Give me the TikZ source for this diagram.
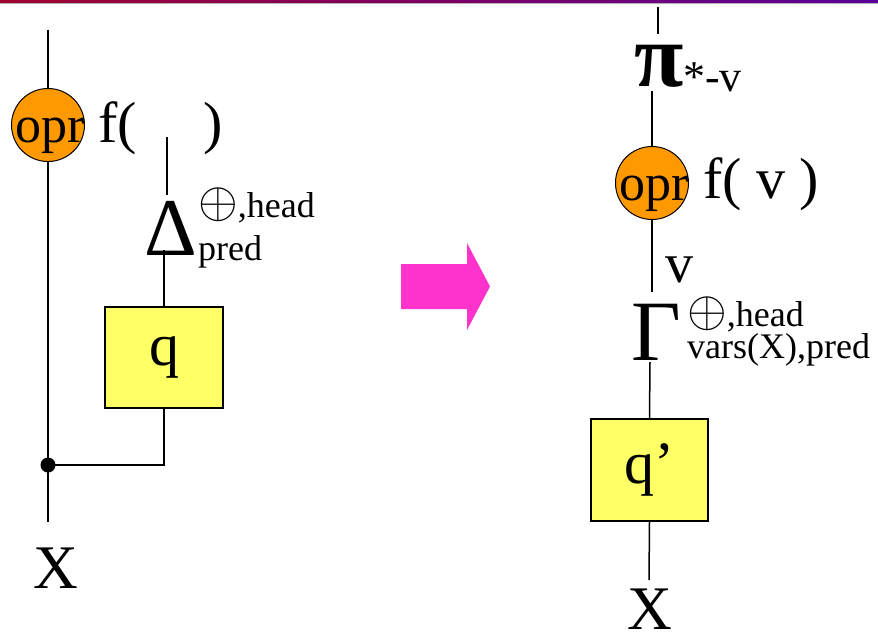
\documentclass[tikz,border=0pt]{standalone}
\usepackage{fontspec}
\usepackage{graphicx}
\setmainfont{Liberation Serif}
\newcommand{\opl}{\scalebox{2.05}{$\oplus$}}
\begin{document}
\begin{tikzpicture}[x=1pt,y=-1pt,
  wire/.style={line width=1.5pt,black},
  oprnode/.style={circle,draw=black,line width=1pt,fill=orangeop,minimum size=73pt,inner sep=0pt},
  qbox/.style={draw=black,line width=1.6pt,fill=yellowq,inner sep=0pt},
  txt/.style={inner sep=0pt,anchor=base west},
  fs/.style={font=\fontsize{#1}{#1}\selectfont}]
\definecolor{orangeop}{HTML}{FF9900}
\definecolor{yellowq}{HTML}{FFFF66}
\definecolor{pinkarrow}{HTML}{FF33CC}
\definecolor{barleft}{HTML}{A00030}
\definecolor{barright}{HTML}{5A0099}
\useasboundingbox (0,0) rectangle (878,634);
% top bar
\shade[left color=barleft,right color=barright] (0,0) rectangle (878,2.6);
\fill[gray!60] (0,2.6) rectangle (878,3.4);

% ---------- left diagram ----------
\coordinate (ltop) at (48,30);
\node[oprnode] (c1) at (48,125) {};
\node[fs=52,inner sep=0pt,anchor=base] (opr1) at (50,142) {opr};
\node[txt,fs=58] (f1) at (98,142) {f(};
\node[txt,fs=58] (p1) at (203,142) {)};
\coordinate (dot) at (48,465);
\coordinate (lbot) at (48,522);
\node[qbox,minimum width=118pt,minimum height=101pt] (q) at (164,357.5) {};
\node[fs=60,inner sep=0pt] (qlab) at (q.center) {q};
\node[txt,fs=82,anchor=base] (delta) at (171,255) {Δ};
\node[txt,fs=36] (dsup) at (198,217) {\opl,head};
\node[txt,fs=36] (dsub) at (198,260) {pred};
\coordinate (dtop) at (167,137);
\coordinate (dtopend) at (167,195);
\coordinate (dbot) at (164,250);
\coordinate (qcorner) at (164,465);
\node[txt,fs=62,anchor=base] (X1) at (56,588) {X};

\draw[wire] (ltop) -- (c1.north);
\draw[wire] (c1.south) -- (lbot);
\draw[wire] (dtop) -- (dtopend);
\draw[wire] (q.north) -- (dbot);
\draw[wire] (dot) -- (qcorner) -- (q.south);
\fill (dot) circle (7.5);

% ---------- arrow ----------
\fill[pinkarrow] (401,264) -- (467,264) -- (467,243) -- (490,286.5) -- (467,330) -- (467,309) -- (401,309) -- cycle;

% ---------- right diagram ----------
\coordinate (rtop) at (658,7);
\coordinate (rtopend) at (658,34);
\node[txt,fs=90,anchor=base] (pi) at (659,86) {\textbf{π}};
\node[txt,fs=44] (pisub) at (683,92) {*-v};
\coordinate (pibot) at (652,91);
\node[oprnode] (c2) at (652,183) {};
\node[fs=52,inner sep=0pt,anchor=base] (opr2) at (654,200) {opr};
\node[txt,fs=58] (f2) at (703,198) {f( v )};
\coordinate (gtop) at (652,292);
\node[txt,fs=56] (vlab) at (665,282) {v};
\node[txt,fs=86,anchor=base] (gamma) at (656,360) {Γ};
\node[txt,fs=36] (gsup) at (687,326) {\opl,head};
\node[txt,fs=36] (gsub) at (687,358) {vars(X),pred};
\coordinate (gbot) at (650,362);
\node[qbox,minimum width=117pt,minimum height=102pt] (q2) at (649.5,470) {};
\node[fs=60,inner sep=0pt] (q2lab) at (q2.center) {q’};
\coordinate (rbot) at (649,580);
\node[txt,fs=62,anchor=base] (X2) at (650,629) {X};

\draw[wire] (rtop) -- (rtopend);
\draw[wire] (pibot) -- (c2.north);
\draw[wire] (c2.south) -- (gtop);
\draw[wire] (gbot) -- (q2.north);
\draw[wire] (q2.south) -- (rbot);
\end{tikzpicture}
\end{document}
